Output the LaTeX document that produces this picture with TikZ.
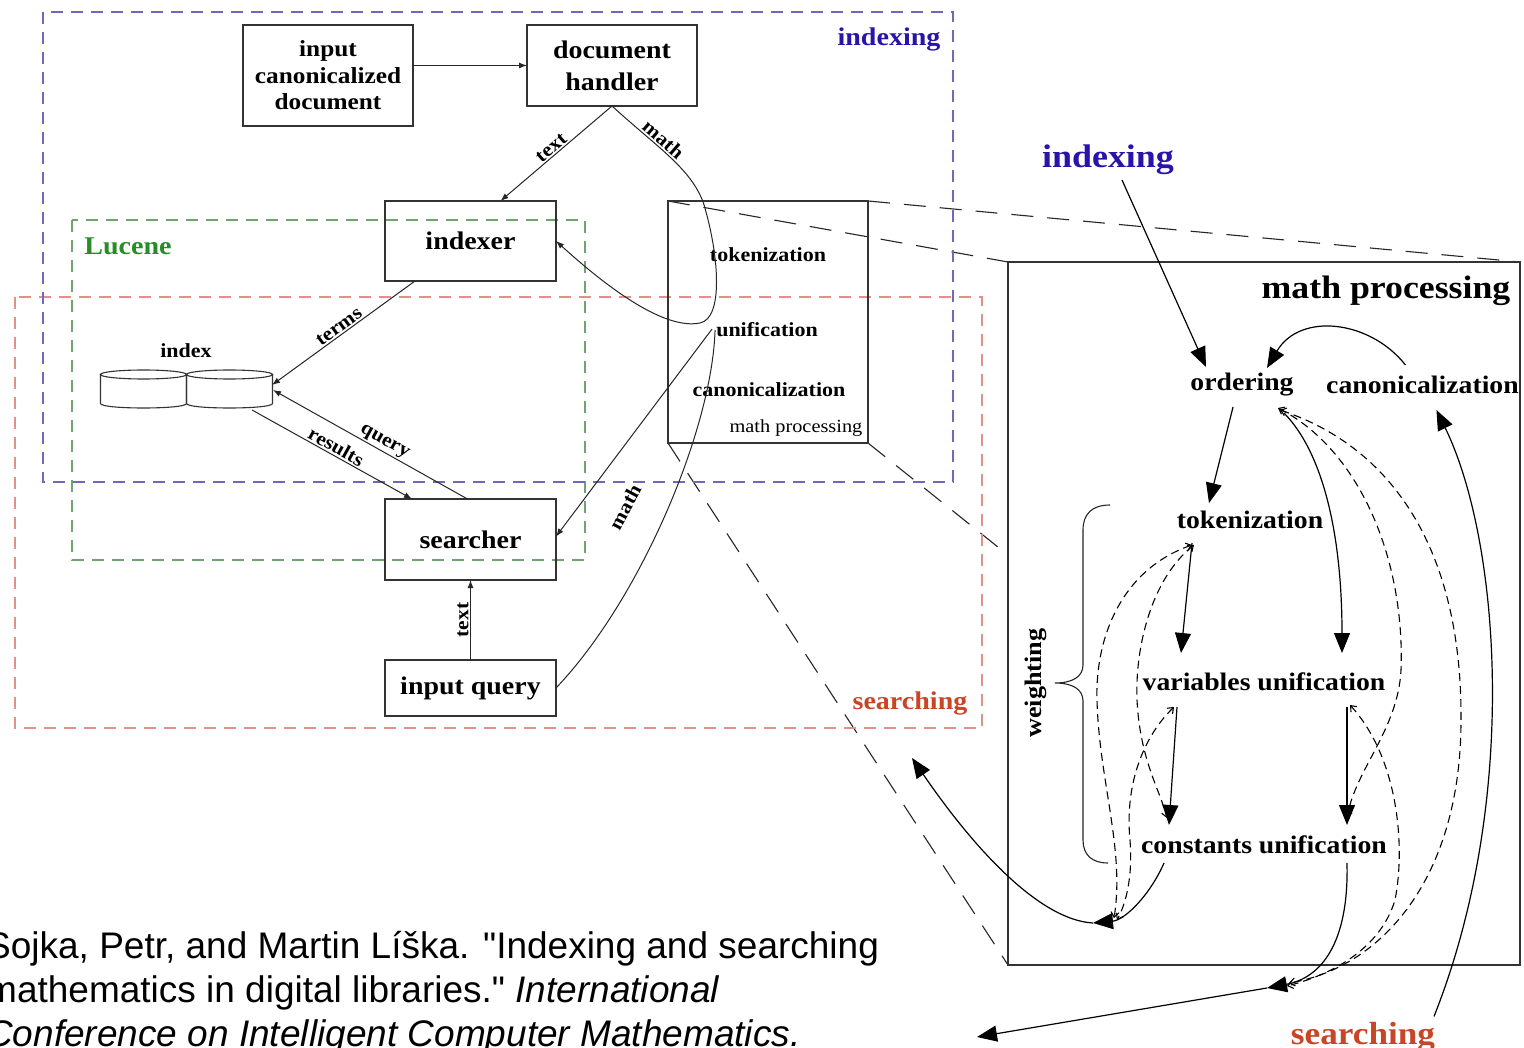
\documentclass[tikz,border=0pt]{standalone}
\usepackage{fontspec}
\setmainfont{Liberation Serif}[FakeStretch=1.1]
\newfontfamily\citefont{Liberation Sans}
\usetikzlibrary{arrows.meta,calc}
\definecolor{idxblue}{RGB}{40,20,170}
\definecolor{lucgreen}{RGB}{40,140,40}
\definecolor{srchred}{RGB}{200,70,40}
\definecolor{regblue}{RGB}{110,105,185}
\definecolor{reggreen}{RGB}{110,165,110}
\definecolor{regred}{RGB}{225,145,135}
\newcommand\fsz[2]{\fontsize{#1}{#2}\selectfont}
\pgfdeclarelayer{bg}
\pgfsetlayers{bg,main}
\begin{document}
\begin{tikzpicture}[x=1pt,y=-1pt,
  box/.style={draw=black!80, line width=1.3pt, inner sep=0pt, outer sep=0pt, align=center, font=\fsz{25.4}{30}\bfseries},
  lab/.style={inner sep=1.5pt, font=\fsz{19.5}{22}\bfseries},
  txt/.style={inner sep=1pt, font=\fsz{25.2}{30}\bfseries},
  stxt/.style={inner sep=1pt, font=\fsz{20}{24}\bfseries},
  sarr/.style={draw=black!85, line width=1pt, -{Latex[length=8pt,width=6pt]}},
  barr/.style={line width=1.2pt, -{Triangle[length=20pt,width=16pt]}},
  dsh/.style={line width=1.1pt, dash pattern=on 8pt off 5pt, {Straight Barb[length=5pt,width=8pt]}-{Straight Barb[length=5pt,width=8pt]}},
  region/.style={line width=1.3pt, dash pattern=on 12pt off 8pt},
  persp/.style={line width=1.1pt, draw=black!85, dash pattern=on 22pt off 14pt},
  reglabel/.style={inner sep=1pt, font=\fsz{25.5}{30}\bfseries}
]
\useasboundingbox (0,0) rectangle (1524,1048);
\clip (0,0) rectangle (1524,1048);
\begin{pgfonlayer}{bg}
\fill[white] (0,0) rectangle (1524,1048);
\end{pgfonlayer}

% regions
\draw[region, draw=regred] (15,297) rectangle (982,728);
\draw[region, draw=reggreen] (72,220) rectangle (585,560);
\draw[region, draw=regblue] (43,12) rectangle (953,482);
\node[reglabel, text=idxblue] (lidx) at (889,39) {indexing};
\node[reglabel, text=lucgreen] (lluc) at (128,246) {Lucene};
\node[reglabel, text=srchred] (lsrch) at (910,703) {searching};

% left boxes
\node[box, minimum width=170pt, minimum height=101pt, font=\fsz{23}{26.5}\bfseries] (icd) at (328,75.5) {input\\canonicalized\\document};
\node[box, minimum width=170pt, minimum height=81pt, font=\fsz{25.4}{32}\bfseries] (dh) at (612,65.5) {document\\handler};
\node[box, minimum width=171pt, minimum height=80pt] (indexer) at (470.5,241) {indexer};
\node[box, minimum width=171pt, minimum height=81pt] (searcher) at (470.5,539.5) {searcher};
\node[box, minimum width=171pt, minimum height=56pt] (iq) at (470.5,688) {input query};

% index cylinders
\node[minimum width=172pt, minimum height=38pt, inner sep=0pt, outer sep=0pt] (index) at (186,389) {};
\foreach \cx in {143.5,229.5} {
  \draw[black!80, line width=1.1pt] (\cx-43,374.5) -- (\cx-43,403.5) .. controls (\cx-43,409.5) and (\cx+43,409.5) .. (\cx+43,403.5) -- (\cx+43,374.5);
  \draw[black!80, line width=1.1pt] (\cx,374.5) ellipse [x radius=43, y radius=4.5];
}
\node[stxt] (idxlab) at (186,351) {index};

% small math processing box
\node[draw=black!80, line width=1.3pt, minimum width=200pt, minimum height=242pt, inner sep=0pt, outer sep=0pt] (mp) at (768,322) {};
\node[stxt] (tok1) at (768,255) {tokenization};
\node[stxt] (unif) at (767,330) {unification};
\node[stxt] (canon1) at (769,390) {canonicalization};
\node[inner sep=1pt, font=\fsz{18.5}{22}] (mps) at (796,428) {math processing};

% big box
\node[draw=black!80, line width=1.4pt, fill=white, minimum width=512pt, minimum height=703pt, inner sep=0pt, outer sep=0pt] (big) at (1264,613.5) {};

\begin{pgfonlayer}{bg}
\draw[persp] (mp.north west) -- (big.north west);
\draw[persp] (mp.north east) -- (big.north east);
\draw[persp] (mp.south east) -- (big.south east);
\draw[persp] (mp.south west) -- (big.south west);
\end{pgfonlayer}

% left edges
\draw[sarr] (icd.east |- dh.west) -- (dh.west);
\draw[sarr] (dh.south) -- node[lab, sloped, above] {text} ($(indexer.north)+(30,0)$);
\draw[sarr] (dh.south) .. controls (660,150) and (697,172) .. (706,212) node[lab, sloped, above, pos=0.35] {math}
   .. controls (718,255) and (724,318) .. (700,323) .. controls (665,330) and (610,290) .. (indexer.east);
\draw[sarr] ($(indexer.south west)+(30,0)$) -- node[lab, sloped, above] {terms} ($(index.east)+(0,-4)$);
\draw[sarr] ($(searcher.north)+(-3,0)$) -- node[lab, sloped, above, pos=0.45] {query} ($(index.east)+(1,1)$);
\draw[sarr] ($(index.south east)+(-20,2)$) -- node[lab, sloped, above, pos=0.5] {results} ($(searcher.north west)+(27,0)$);
\draw[sarr] (iq.north) -- node[lab, sloped, above] {text} (searcher.south);
\draw[draw=black!85, line width=1pt] (iq.east) .. controls (640,600) and (712,430) .. (unif.west);
\node[lab, rotate=62] (mathq) at (625,507) {math};
\draw[sarr] ($(unif.west)+(-3,-1)$) -- ($(searcher.east)+(0,-3)$);

% right diagram texts
\node[font=\fsz{32.7}{36}\bfseries, text=idxblue, inner sep=1pt] (idx2) at (1108,160) {indexing};
\node[font=\fsz{32.5}{36}\bfseries, inner sep=1pt] (mpt) at (1386,291) {math processing};
\node[txt] (ord) at (1242,385) {ordering};
\node[txt, anchor=west] (can) at (1325,385) {canonicalization};
\node[txt] (tok) at (1250,520) {tokenization};
\node[txt] (var) at (1264,682) {variables unification};
\node[txt] (con) at (1264,845) {constants unification};
\node[font=\fsz{23.8}{28}\bfseries, rotate=90, inner sep=1pt] (wt) at (1036,683) {weighting};
\node[font=\fsz{32}{36}\bfseries, text=srchred, inner sep=1pt, anchor=base] (srch) at (1363,1044) {searching};

\coordinate (ML) at (1093,923);
\coordinate (MR) at (1267,988);
\coordinate (outL) at (912,758);
\coordinate (outR) at (977,1037);

% brace
\draw[line width=1.1pt, black!85] (1110,505) .. controls (1092,505) and (1083,514) .. (1083,530) -- (1083,665) .. controls (1083,677) and (1072,683) .. (1055,683) .. controls (1072,683) and (1083,689) .. (1083,701) -- (1083,840) .. controls (1083,855) and (1092,863) .. (1108,863);

% dashed alternatives
\draw[dsh] ($(ord)+(36,23)$) .. controls (1360,450) and (1405,560) .. (1401,670) .. controls (1398,730) and (1355,770) .. ($(con)+(83,-27)$);
\draw[dsh] ($(ord)+(38,25)$) .. controls (1400,450) and (1462,560) .. (1461,720) .. controls (1461,880) and (1380,968) .. ($(MR)+(22,-5)$);
\draw[dsh] ($(var)+(86,23)$) .. controls (1400,760) and (1405,850) .. (1395,900) .. controls (1380,950) and (1330,975) .. ($(MR)+(20,-2)$);
\draw[dsh] ($(tok)+(-58,25)$) .. controls (1120,570) and (1095,640) .. (1097,700) .. controls (1099,780) and (1125,850) .. ($(ML)+(21,-5)$);
\draw[dsh] ($(tok)+(-56,25)$) .. controls (1150,580) and (1135,650) .. (1137,700) .. controls (1140,760) and (1160,790) .. ($(con)+(-97,-27)$);
\draw[dsh] ($(var)+(-90,25)$) .. controls (1140,740) and (1125,790) .. (1130,840) .. controls (1133,880) and (1125,905) .. ($(ML)+(24,-3)$);

% solid arrows
\draw[barr] ($(idx2)+(14,20)$) -- ($(ord)+(-36,-18)$);
\draw[barr] ($(can)+(-17,-20)$) .. controls (1370,320) and (1300,312) .. ($(ord)+(25,-17)$);
\draw[barr] ($(ord)+(-9,22)$) -- ($(tok)+(-41,-17)$);
\draw[barr] ($(tok)+(-58,23)$) -- ($(var)+(-83,-29)$);
\draw[barr] ($(ord)+(42,28)$) .. controls (1325,455) and (1342,540) .. ($(var)+(78,-29)$);
\draw[barr] ($(var)+(-87,25)$) -- ($(con)+(-95,-20)$);
\draw[barr] ($(var)+(83,25)$) -- ($(con)+(83,-20)$);
\draw[barr] ($(con)+(-100,18)$) .. controls (1150,895) and (1125,920) .. (ML);
\draw[barr] ($(con)+(83,18)$) .. controls (1349,945) and (1320,978) .. (MR);
\draw[barr] (ML) .. controls (1040,920) and (975,850) .. (outL);
\draw[barr] (MR) -- (outR);
\draw[barr] ($(srch)+(71,-20)$) .. controls (1520,800) and (1500,540) .. ($(can)+(14,25)$);

% citation
\node[anchor=base west, inner sep=0pt, font=\citefont\fsz{37}{44}] (c1) at (-14,958) {Sojka, Petr, and Martin Líška. "Indexing and searching};
\node[anchor=base west, inner sep=0pt, font=\citefont\fsz{37}{44}] (c2) at (-14,1002) {mathematics in digital libraries." \textit{International}};
\node[anchor=base west, inner sep=0pt, font=\citefont\fsz{37}{44}] (c3) at (-14,1046) {\textit{Conference on Intelligent Computer Mathematics.}};
\end{tikzpicture}
\end{document}
